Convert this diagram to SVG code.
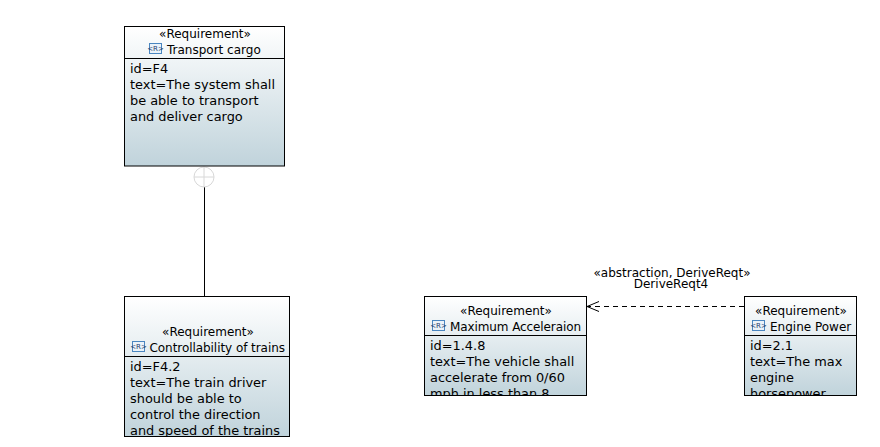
<svg xmlns="http://www.w3.org/2000/svg" width="880" height="447" viewBox="0 0 880 447">
<style>
text{font-family:"DejaVu Sans",sans-serif;font-size:12px;fill:#000}
.b{font-size:12.9px}
.c{text-anchor:middle}
.box{stroke:#000;stroke-width:1;fill:url(#g)}
.div{stroke:#000;stroke-width:1}
.ico{fill:#eaf2f9;stroke:#4a86c0;stroke-width:1}
.icot{font-size:7px;text-anchor:middle;fill:#1f3f70}
.wire{stroke:#000;stroke-width:1;fill:none}
</style>
<defs>
<linearGradient id="g" x1="0" y1="0" x2="0" y2="1"><stop offset="0" stop-color="#fff"/><stop offset="1" stop-color="#c0d3db"/></linearGradient>
<clipPath id="c1"><rect x="125" y="27" width="159" height="139"/></clipPath>
<clipPath id="c2"><rect x="125" y="297" width="164" height="139.500"/></clipPath>
<clipPath id="c3"><rect x="425" y="297" width="161" height="98.500"/></clipPath>
<clipPath id="c4"><rect x="745" y="297" width="111" height="98.500"/></clipPath>
<marker id="open" markerWidth="14" markerHeight="12" refX="13" refY="6" orient="auto" markerUnits="userSpaceOnUse"><path d="M1 1L13 6L1 11" fill="none" stroke="#000"/></marker>
</defs>
<g id="connectors">
<line class="wire" x1="204.500" y1="187" x2="204.500" y2="296"/>
<g fill="#fff" stroke="#d8d8d8"><circle cx="204" cy="177" r="10"/><path d="M194 177H214M204 167V187" fill="none"/></g>
<line class="wire" x1="744" y1="306.500" x2="587" y2="306.500" stroke-dasharray="5 4" marker-end="url(#open)"/>
<text class="c" x="672" y="277">«abstraction, DeriveReqt»</text>
<text class="c" x="671" y="288">DeriveReqt4</text>
</g>
<g id="node-transport-cargo">
<rect class="box" x="124.500" y="26.500" width="160" height="139.500"/>
<line class="div" x1="124.500" y1="58.500" x2="284.500" y2="58.500"/>
<g clip-path="url(#c1)">
<text class="c" x="205" y="38">«Requirement»</text>
<rect class="ico" x="149.500" y="43.500" width="12" height="10"/><text class="icot" x="155.500" y="50.500">&lt;R&gt;</text>
<text x="167" y="54">Transport cargo</text>
<text class="b" x="130" y="73">id=F4</text>
<text class="b" x="130" y="89">text=The system shall</text>
<text class="b" x="130" y="105">be able to transport</text>
<text class="b" x="130" y="121">and deliver cargo</text>
</g>
</g>
<g id="node-controllability">
<rect class="box" x="124.500" y="296.500" width="165" height="140"/>
<line class="div" x1="124.500" y1="356.500" x2="289.500" y2="356.500"/>
<g clip-path="url(#c2)">
<text class="c" x="208" y="336">«Requirement»</text>
<rect class="ico" x="132.500" y="341.500" width="12" height="10"/><text class="icot" x="138.500" y="348.500">&lt;R&gt;</text>
<text x="149.500" y="352" textLength="135.500">Controllability of trains</text>
<text class="b" x="130" y="371">id=F4.2</text>
<text class="b" x="130" y="387">text=The train driver</text>
<text class="b" x="130" y="403">should be able to</text>
<text class="b" x="130" y="419">control the direction</text>
<text class="b" x="130" y="435">and speed of the trains</text>
</g>
</g>
<g id="node-max-acceleration">
<rect class="box" x="424.500" y="296.500" width="162" height="99"/>
<line class="div" x1="424.500" y1="335.500" x2="586.500" y2="335.500"/>
<g clip-path="url(#c3)">
<text class="c" x="506" y="315">«Requirement»</text>
<rect class="ico" x="432.500" y="320.500" width="12" height="10"/><text class="icot" x="438.500" y="327.500">&lt;R&gt;</text>
<text x="450" y="331" textLength="131">Maximum Acceleraion</text>
<text class="b" x="430" y="350">id=1.4.8</text>
<text class="b" x="430" y="366">text=The vehicle shall</text>
<text class="b" x="430" y="382">accelerate from 0/60</text>
<text class="b" x="430" y="398">mph in less than 8</text>
</g>
</g>
<g id="node-engine-power">
<rect class="box" x="744.500" y="296.500" width="112" height="99"/>
<line class="div" x1="744.500" y1="335.500" x2="856.500" y2="335.500"/>
<g clip-path="url(#c4)">
<text class="c" x="801" y="315">«Requirement»</text>
<rect class="ico" x="752.500" y="320.500" width="12" height="10"/><text class="icot" x="758.500" y="327.500">&lt;R&gt;</text>
<text x="770" y="331">Engine Power</text>
<text class="b" x="750" y="350">id=2.1</text>
<text class="b" x="750" y="366">text=The max</text>
<text class="b" x="750" y="382">engine</text>
<text class="b" x="750" y="398">horsepower</text>
</g>
</g>
</svg>
